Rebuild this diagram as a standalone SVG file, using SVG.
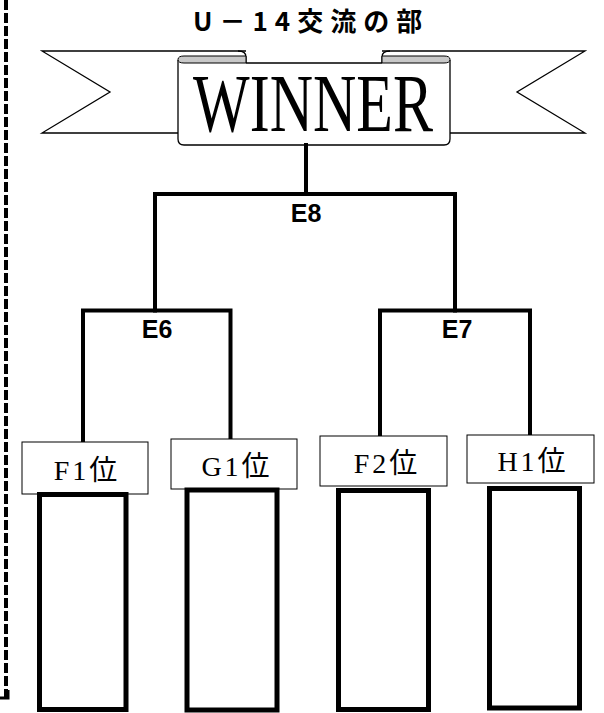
<svg xmlns="http://www.w3.org/2000/svg" width="604" height="713" viewBox="0 0 604 713">
<style>
.thin{fill:#fff;stroke:#000;stroke-width:1.3}
.curl{fill:#c8c8c8;stroke:#000;stroke-width:1}
.conn{fill:none;stroke:#000;stroke-width:4;stroke-linecap:square}
.lbl{fill:#fff;stroke:#000;stroke-width:1}
.slot{fill:#fff;stroke:#000;stroke-width:5}
.lt{font-family:"Liberation Serif","Noto Sans CJK JP",serif;font-size:28px;letter-spacing:3px;text-anchor:middle}
.et{font-family:"Liberation Sans","Noto Sans CJK JP",sans-serif;font-size:25px;font-weight:bold;text-anchor:middle}
</style>
<rect width="604" height="713" fill="#fff"/>
<g id="border">
<line x1="6" y1="0" x2="6" y2="698" stroke="#000" stroke-width="4" stroke-dasharray="10,3"/>
<path d="M0,698 H8 V690" fill="none" stroke="#000" stroke-width="3"/>
</g>
<text x="193" y="31" font-family="'Noto Sans CJK JP',sans-serif" font-size="26" font-weight="bold" letter-spacing="7">U－14交流の部</text>
<g id="winner">
<path class="thin" d="M246,51 H42 L110,92 L42,133 H178"/>
<path class="thin" d="M382,51 H585 L517,92 L585,133 H450"/>
<rect x="178" y="60" width="272" height="85" rx="6" fill="#fff"/>
<path d="M178,60 V139 Q178,145 184,145 H444 Q450,145 450,139 V60 M246,63 H382" fill="none" stroke="#000" stroke-width="1.3"/>
<path d="M238,51 Q246,51 246,57 V63" fill="none" stroke="#000" stroke-width="1.3"/>
<path class="curl" d="M246,56 H184 Q178,56 178,59.5 Q178,63 184,63 H246 Z"/>
<path d="M390,51 Q382,51 382,57 V63" fill="none" stroke="#000" stroke-width="1.3"/>
<path class="curl" d="M382,56 H444 Q450,56 450,59.5 Q450,63 444,63 H382 Z"/>
<text x="313" y="131" textLength="240" lengthAdjust="spacingAndGlyphs" text-anchor="middle" font-family="'Liberation Serif',serif" font-size="82">WINNER</text>
</g>
<g id="connectors">
<path class="conn" d="M306,145 V194 M155,194 H455 M155,194 V310.5 M455,194 V310.5"/>
<path class="conn" d="M83,310.5 H230.5 M83,310.5 V442 M230.5,310.5 V439"/>
<path class="conn" d="M380,310.5 H530 M380,310.5 V436 M530,310.5 V435"/>
</g>
<g id="E8"><text class="et" x="306" y="222">E8</text></g>
<g id="E6"><text class="et" x="157" y="338">E6</text></g>
<g id="E7"><text class="et" x="457" y="338">E7</text></g>
<g id="F1">
<rect class="lbl" x="22" y="442" width="126" height="52"/>
<text class="lt" x="87" y="480">F1位</text>
<rect class="slot" x="39.5" y="494.5" width="86.5" height="215"/>
</g>
<g id="G1">
<rect class="lbl" x="171" y="439" width="126" height="50"/>
<text class="lt" x="237" y="476">G1位</text>
<rect class="slot" x="187" y="490" width="90" height="220"/>
</g>
<g id="F2">
<rect class="lbl" x="320" y="436" width="127" height="50"/>
<text class="lt" x="387" y="473">F2位</text>
<rect class="slot" x="338.5" y="490.5" width="90" height="219"/>
</g>
<g id="H1">
<rect class="lbl" x="467" y="435" width="127" height="48"/>
<text class="lt" x="533" y="471">H1位</text>
<rect class="slot" x="489.5" y="488.5" width="90" height="219.5"/>
</g>
</svg>
